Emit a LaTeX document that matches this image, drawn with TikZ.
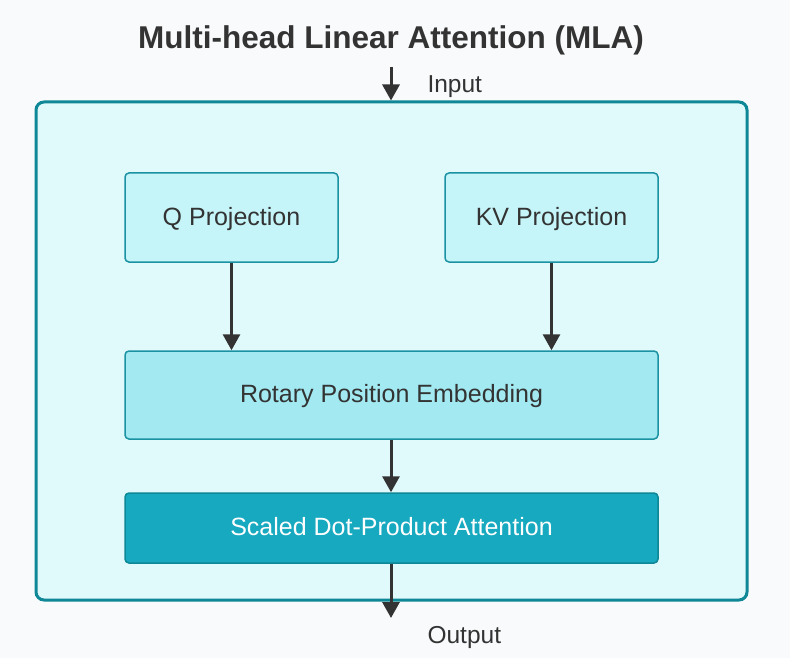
\documentclass[tikz,border=0pt]{standalone}
\usepackage{fontspec}
\setmainfont{Liberation Sans}
\usetikzlibrary{arrows.meta}
\definecolor{pagebg}{HTML}{F8FAFC}
\definecolor{outerfill}{HTML}{E0F9FB}
\definecolor{outerline}{HTML}{0E8796}
\definecolor{projfill}{HTML}{C5F5F9}
\definecolor{ropefill}{HTML}{A2E9F1}
\definecolor{boxline}{HTML}{1A92A2}
\definecolor{attnfill}{HTML}{16A9BF}
\definecolor{txt}{HTML}{333333}
\tikzset{
	block/.style = {draw=boxline, line width=1.5pt, rounded corners=4pt, text=txt, text depth=3pt, font=\fontsize{25}{29}\selectfont},
	flow/.style = {draw=txt, line width=3pt, -{Triangle[length=16pt,width=17pt]}},
	label/.style = {text=txt, anchor=west, font=\fontsize{24.5}{28}\selectfont}
}
\begin{document}
\begin{tikzpicture}[x=1pt, y=-1pt]
			\useasboundingbox (0,0) rectangle (790,658);
			\fill[pagebg] (0,0) rectangle (790,658);
			\node[text=txt, font=\bfseries\fontsize{31.5}{36}\selectfont] (title) at (391,40) {Multi-head Linear Attention (MLA)};
			\node[draw=outerline, fill=outerfill, line width=3pt, rounded corners=8pt, minimum width=711pt, minimum height=498pt] (mla) at (391.5,351) {};
			\node[block, fill=projfill, minimum width=213pt, minimum height=89pt] (qproj) at (231.5,217.5) {Q Projection};
			\node[block, fill=projfill, minimum width=213pt, minimum height=89pt] (kvproj) at (551.5,217.5) {KV Projection};
			\node[block, fill=ropefill, minimum width=533pt, minimum height=88pt] (rope) at (391.5,395) {Rotary Position Embedding};
			\node[block, fill=attnfill, draw=outerline, text=white, minimum width=533pt, minimum height=70pt] (sdpa) at (391.5,528) {Scaled Dot-Product Attention};
			\coordinate (in) at (391,67);
			\coordinate (out) at (391,618);
			\node[label] (inlabel) at (424,87) {Input};
			\node[label] (outlabel) at (424,637) {Output};
			\draw[flow] (in) -- (mla.north -| in);
			\draw[flow] (qproj.south) -- (rope.north -| qproj.south);
			\draw[flow] (kvproj.south) -- (rope.north -| kvproj.south);
			\draw[flow] (rope.south -| in) -- (sdpa.north -| in);
			\draw[flow] (sdpa.south -| in) -- (out);
		\end{tikzpicture}
\end{document}
